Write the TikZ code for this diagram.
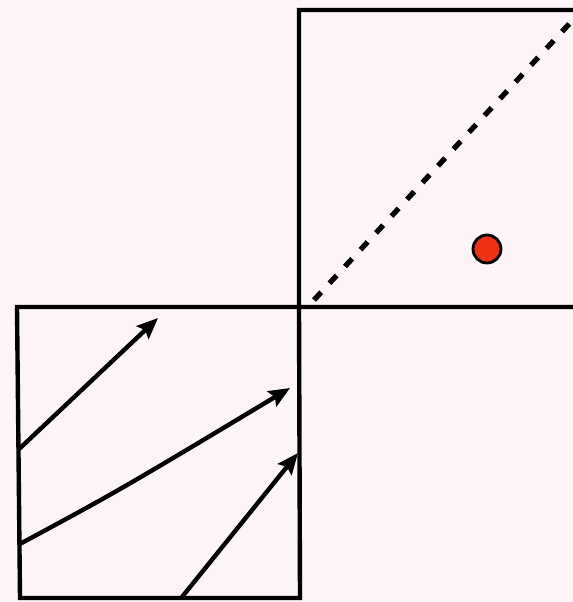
\documentclass[tikz,border=0pt]{standalone}
\usepackage{tikz}
\usetikzlibrary{arrows.meta,calc,positioning}
\definecolor{paper}{RGB}{252,244,247}
\definecolor{dotred}{RGB}{238,48,20}
\tikzset{ray/.style={-{Stealth[length=12pt,width=10pt,inset=2pt]}}}

\begin{document}
\begin{tikzpicture}[x=0.02cm,y=-0.02cm,line width=2.5pt]
  \fill[paper] (0,0) rectangle (573,602);
  \useasboundingbox (0,0) rectangle (573,602);
  \clip (0,0) rectangle (573,602);
  % corners of the two boxes
  \coordinate (TL) at (299,10);
  \coordinate (TR) at (580,10);
  \coordinate (M) at (299,307);
  \coordinate (ML) at (17,307);
  \coordinate (MR) at (580,307);
  \coordinate (BL) at (20,598);
  \coordinate (BR) at (300,598);
  \draw (TR) -- (TL) -- (M) -- (BR) -- (BL) -- (ML) -- (MR);
  % dashed diagonal and dot
  \coordinate (D0) at (314,300);
  \coordinate (D1) at (582,10);
  \draw[line width=3pt,dash pattern=on 6pt off 7pt] (D0) -- (D1);
  \filldraw[fill=dotred,draw=black,line width=1.6pt] (487,249) circle (14);
  % arrows in the lower box
  \coordinate (A1) at (18,450);
  \coordinate (A1e) at (158,318);
  \coordinate (A2) at (18,545);
  \coordinate (A2e) at (290,388);
  \coordinate (A3) at (182,597);
  \coordinate (A3e) at (298,453);
  \draw[ray] (A1) -- (A1e);
  \draw[ray] (A2) .. controls (120,490) .. (A2e);
  \draw[ray] (A3) -- (A3e);
\end{tikzpicture}
\end{document}
